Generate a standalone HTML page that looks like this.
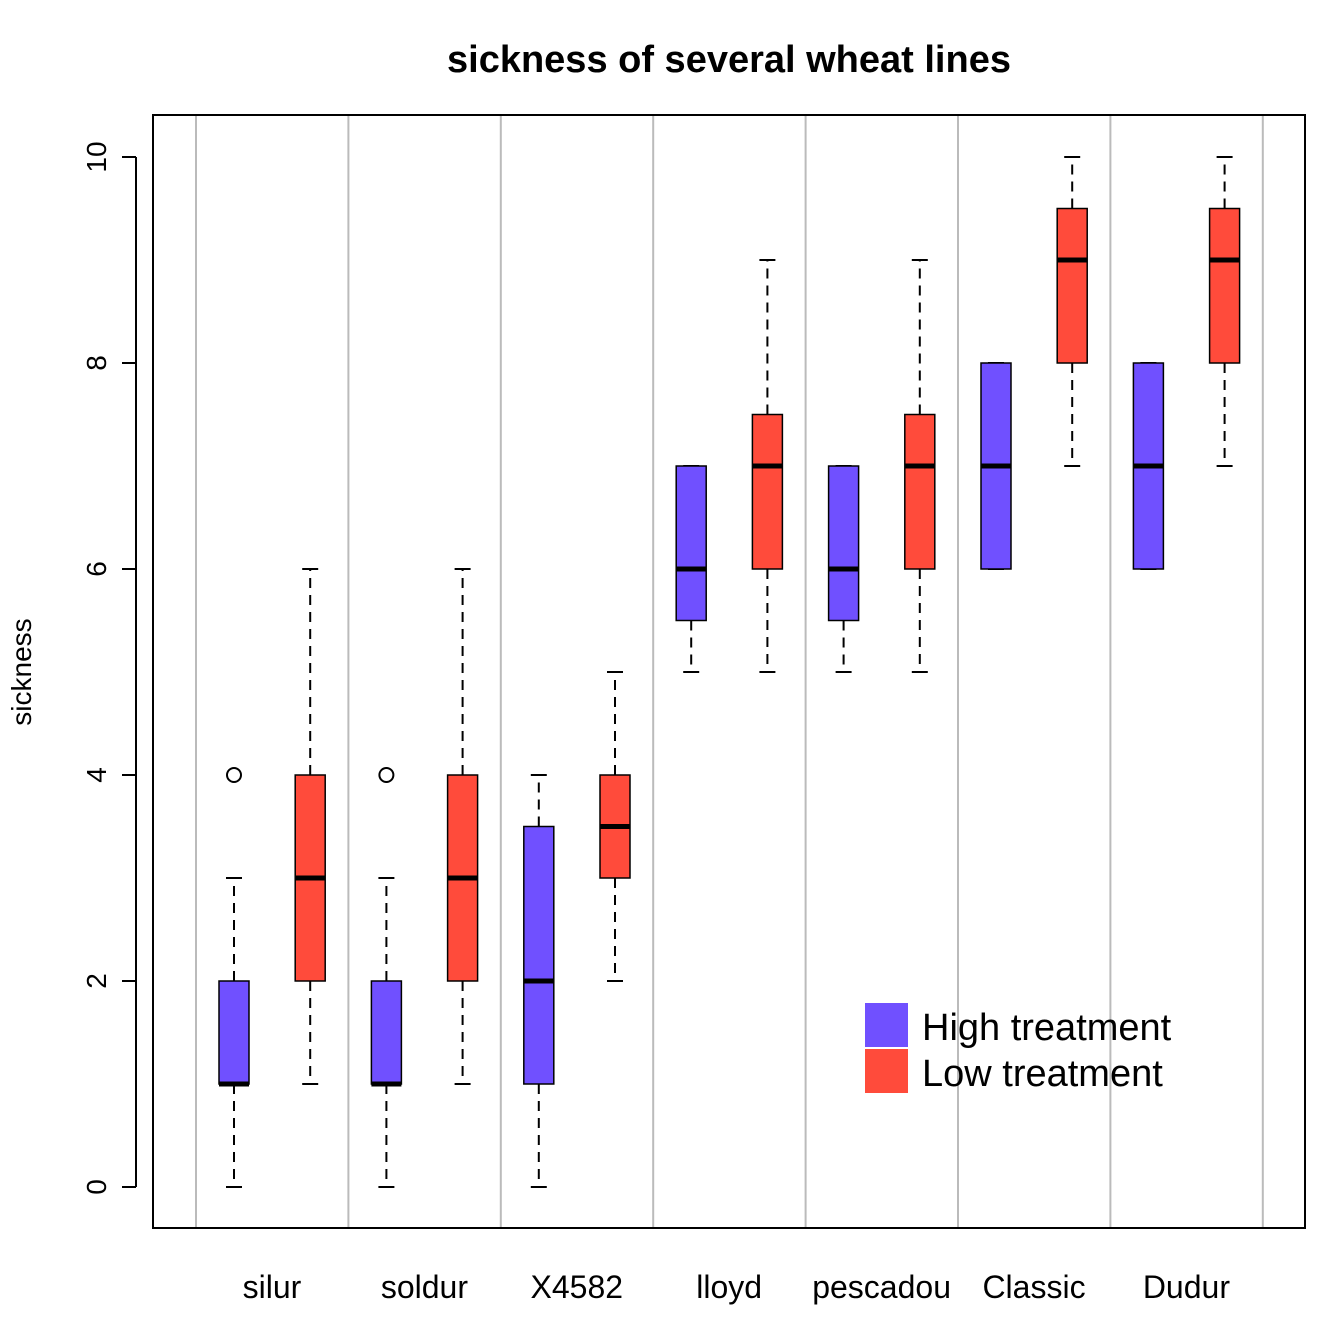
<!DOCTYPE html>
<html><head><meta charset="utf-8"><style>body{margin:0;background:#fff}svg{display:block;font-family:"Liberation Sans",Arial,sans-serif}</style></head>
<body>
<svg id="chart" width="1344" height="1344" viewBox="0 0 1344 1344">
<text x="729" y="72" text-anchor="middle" font-size="38" font-weight="bold">sickness of several wheat lines</text>
<text transform="translate(31,672) rotate(-90)" text-anchor="middle" font-size="28">sickness</text>
<g id="grid"></g><g id="axis"></g><g id="boxes"></g>
<rect x="153" y="115" width="1152" height="1113" fill="none" stroke="#000" stroke-width="2"/>
<g>
<rect x="865" y="1003" width="43" height="44" fill="#7050FF"/>
<rect x="865" y="1049" width="43" height="44" fill="#FF4B3B"/>
<text x="922" y="1040" font-size="38">High treatment</text>
<text x="922" y="1086" font-size="38">Low treatment</text>
</g>
</svg>
<script>
const categories=["silur","soldur","X4582","lloyd","pescadou","Classic","Dudur"];
const whiskLow=[0,1,0,1,0,2,5,5,5,5,6,7,6,7];
const q1=[1,2,1,2,1,3,5.5,6,5.5,6,6,8,6,8];
const medians=[1,3,1,3,2,3.5,6,7,6,7,7,9,7,9];
const q3=[2,4,2,4,3.5,4,7,7.5,7,7.5,8,9.5,8,9.5];
const whiskHigh=[3,6,3,6,4,5,7,9,7,9,8,10,8,10];
const outliers=[[4],[],[4],[],[],[],[],[],[],[],[],[],[],[]];
const yTicks=[0,2,4,6,8,10];
const colors=["#7050FF","#FF4B3B"];
const NS="http://www.w3.org/2000/svg";
const y=v=>1187-v*103;
const x=i=>234+i*76.2;
function mk(t,a,p){const e=document.createElementNS(NS,t);for(const k in a)e.setAttribute(k,a[k]);p.appendChild(e);return e;}
const grid=document.getElementById('grid'),axis=document.getElementById('axis'),boxes=document.getElementById('boxes');
for(let k=0;k<=categories.length;k++){const gx=196+k*152.4;
const l=mk('line',{x1:gx,x2:gx,y1:115,y2:1228,stroke:'#bbb','stroke-width':2},grid);

}
mk('line',{x1:136,x2:136,y1:y(0),y2:y(10),stroke:'#000','stroke-width':2},axis);
yTicks.forEach(t=>{mk('line',{x1:122,x2:136,y1:y(t),y2:y(t),stroke:'#000','stroke-width':2},axis);
const tx=mk('text',{transform:`translate(106,${y(t)}) rotate(-90)`,'text-anchor':'middle','font-size':28},axis);tx.textContent=t;

});
categories.forEach((c,k)=>{const tx=mk('text',{x:272+k*152.4,y:1298,'text-anchor':'middle','font-size':32},axis);tx.textContent=c;

});
medians.forEach((m,i)=>{const cx=x(i),g=mk('g',{},boxes);


const d={stroke:'#000','stroke-width':2,'stroke-dasharray':'10,7'};
if(whiskHigh[i]>q3[i])mk('line',Object.assign({x1:cx,x2:cx,y1:y(q3[i]),y2:y(whiskHigh[i])},d),g);
if(whiskLow[i]<q1[i])mk('line',Object.assign({x1:cx,x2:cx,y1:y(q1[i]),y2:y(whiskLow[i])},d),g);
mk('line',{x1:cx-8,x2:cx+8,y1:y(whiskHigh[i]),y2:y(whiskHigh[i]),stroke:'#000','stroke-width':2},g);
mk('line',{x1:cx-8,x2:cx+8,y1:y(whiskLow[i]),y2:y(whiskLow[i]),stroke:'#000','stroke-width':2},g);
mk('rect',{x:cx-15,y:y(q3[i]),width:30,height:y(q1[i])-y(q3[i]),fill:colors[i%2],stroke:'#000','stroke-width':1.5},g);
mk('line',{x1:cx-15,x2:cx+15,y1:y(m),y2:y(m),stroke:'#000','stroke-width':5},g);
outliers[i].forEach(o=>mk('circle',{cx:cx,cy:y(o),r:7,fill:'none',stroke:'#000','stroke-width':2},g));
});
</script>
</body></html>
